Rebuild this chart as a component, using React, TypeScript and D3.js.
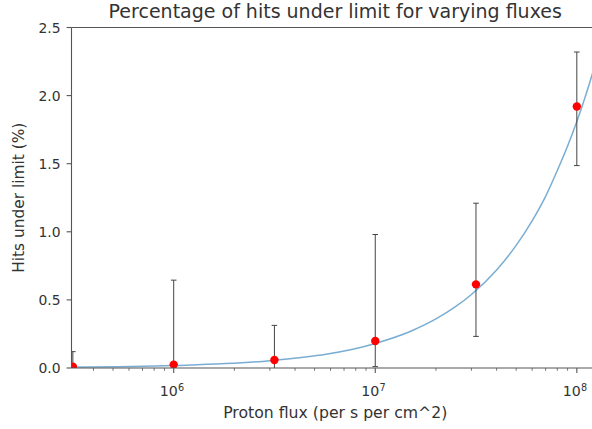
import React from "react";
import * as d3 from "d3";

const fluxes = [3.16e5, 1e6, 3.16e6, 1e7, 3.16e7, 1e8];
const hits = [0.01, 0.025, 0.059, 0.198, 0.614, 1.92];
const errLow = [-0.1, -0.1, -0.1, 0.01, 0.232, 1.486];
const errHigh = [0.12, 0.645, 0.313, 0.98, 1.21, 2.32];

const fitFlux = [3.1e5, 1e6, 3e6, 1e7, 1.5e7, 2e7, 2.5e7, 3e7, 4e7, 5e7, 6e7, 7e7, 8e7, 9e7, 1e8, 1.1e8, 1.2e8, 1.3e8];
const fitHits = [0.006, 0.018, 0.054, 0.18, 0.27, 0.36, 0.45, 0.54, 0.72, 0.9, 1.08, 1.26, 1.45, 1.63, 1.81, 1.99, 2.17, 2.35];

const yTicks = [0, 0.5, 1.0, 1.5, 2.0, 2.5];
const xMajor = [6, 7, 8];

const W = 592, H = 429;
const L = 71.5, R = 599, T = 27.5, B = 368;
const FONT = "DejaVu Sans, sans-serif";
const TXT = "#333";
const SPINE = "#555";

export default function App() {
  const x = d3.scaleLog().domain([Math.pow(10, 5.493), Math.pow(10, 8.11)]).range([L, R]);
  const y = d3.scaleLinear().domain([0, 2.5]).range([B, T]);
  const line = d3
    .line<number>()
    .x((_, i) => x(fitFlux[i]))
    .y((d) => y(d))
    .curve(d3.curveMonotoneX);
  const [d0, d1] = x.domain();
  const minor: number[] = [];
  for (let e = 5; e <= 8; e++) {
    for (let m = 2; m <= 9; m++) {
      const v = m * Math.pow(10, e);
      if (v >= d0 && v <= d1) minor.push(v);
    }
  }
  return (
    <svg width={W} height={H} style={{ position: "fixed", left: 0, top: 0, background: "#fff" }} fontFamily={FONT}>
      <defs>
        <clipPath id="plot">
          <rect x={L} y={T} width={R - L} height={B - T} />
        </clipPath>
      </defs>
      <g clipPath="url(#plot)">
        <path d={line(fitHits) || ""} fill="none" stroke="#1f77b4" strokeOpacity={0.6} strokeWidth={1.5} />
        {fluxes.map((f, i) => (
          <g key={i} stroke="#444" strokeWidth={1}>
            <line x1={x(f)} x2={x(f)} y1={y(errLow[i])} y2={y(errHigh[i])} />
            <line x1={x(f) - 2.8} x2={x(f) + 2.8} y1={y(errLow[i])} y2={y(errLow[i])} />
            <line x1={x(f) - 2.8} x2={x(f) + 2.8} y1={y(errHigh[i])} y2={y(errHigh[i])} />
          </g>
        ))}
        {fluxes.map((f, i) => (
          <circle key={i} cx={x(f)} cy={y(hits[i])} r={4.2} fill="red" />
        ))}
      </g>
      <line x1={L} x2={L} y1={T} y2={B} stroke={SPINE} strokeWidth={1.1} />
      <line x1={L} x2={R} y1={B} y2={B} stroke={SPINE} strokeWidth={1.1} />
      <line x1={L} x2={R} y1={T} y2={T} stroke={SPINE} strokeWidth={1.1} />
      {yTicks.map((t) => (
        <g key={t}>
          <line x1={L - 4.9} x2={L} y1={y(t)} y2={y(t)} stroke={SPINE} strokeWidth={1.1} />
          <text x={L - 11} y={y(t)} dy="0.36em" textAnchor="end" fontSize={13.9} fill={TXT}>
            {t.toFixed(1)}
          </text>
        </g>
      ))}
      {minor.map((v) => (
        <line key={v} x1={x(v)} x2={x(v)} y1={B} y2={B + 2.8} stroke={SPINE} strokeWidth={0.8} />
      ))}
      {xMajor.map((e) => {
        const px = x(Math.pow(10, e));
        return (
          <g key={e}>
            <line x1={px} x2={px} y1={B} y2={B + 4.9} stroke={SPINE} strokeWidth={1.1} />
            <text x={px - 14} y={395.5} textAnchor="start" fontSize={14.2} fill={TXT}>
              10
            </text>
            <text x={px + 4.2} y={391} textAnchor="start" fontSize={9.7} fill={TXT}>
              {e}
            </text>
          </g>
        );
      })}
      <text x={(L + R) / 2} y={418} textAnchor="middle" fontSize={15.7} fill={TXT}>
        Proton flux (per s per cm^2)
      </text>
      <text transform={`translate(23.5, ${(T + B) / 2}) rotate(-90)`} textAnchor="middle" fontSize={15.4} fill={TXT}>
        Hits under limit (%)
      </text>
      <text x={(L + R) / 2} y={17.5} textAnchor="middle" fontSize={19} fill={TXT}>
        Percentage of hits under limit for varying fluxes
      </text>
    </svg>
  );
}
